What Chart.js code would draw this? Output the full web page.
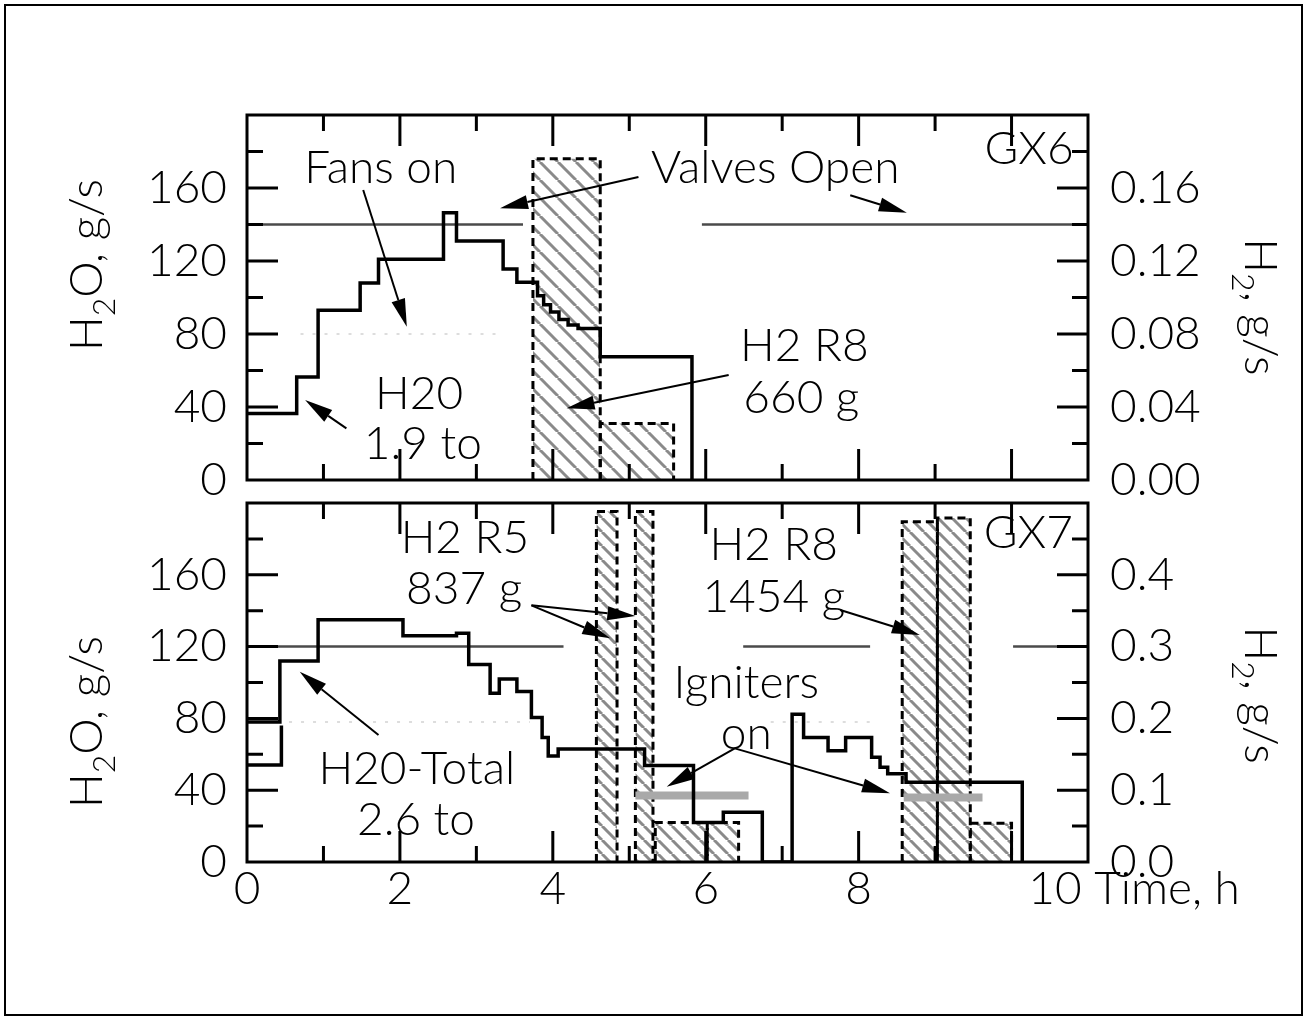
<!DOCTYPE html>
<html>
<head>
<meta charset="utf-8">
<title>GX6 / GX7 water and hydrogen injection</title>
<script src="https://cdn.jsdelivr.net/npm/chart.js@4.4.1/dist/chart.umd.min.js"></script>
<style>
  html, body { margin: 0; padding: 0; background: #fff; }
  #page { position: relative; width: 1308px; height: 1021px; overflow: hidden; background: #fff; }
  #page canvas { position: absolute; left: 0; top: 0; }
  #border { position: absolute; left: 4px; top: 4px; width: 1299px; height: 1012px;
            border: 2px solid #000; box-sizing: border-box; }
</style>
</head>
<body>
<div id="page">
  <div id="border"></div>
  <canvas id="gx6" width="1308" height="1021"></canvas>
  <canvas id="gx7" width="1308" height="1021"></canvas>
</div>
<script>
// ---------------- axis ticks ----------------
const timeTickLabels = [0, 2, 4, 6, 8];
const timeMajor = [2, 4, 6, 8, 10];
const timeMinor = [1, 3, 5, 7, 9];

const waterTickLabels = [0, 40, 80, 120, 160];
const waterMajor = [40, 80, 120, 160];
const waterMinor = [20, 60, 100, 140, 180];

const gx6H2TickLabels = [0, 0.04, 0.08, 0.12, 0.16];
const gx6H2Major = [0.04, 0.08, 0.12, 0.16];
const gx6H2Minor = [0.02, 0.06, 0.10, 0.14, 0.18];

const gx7H2TickLabels = [0, 0.1, 0.2, 0.3, 0.4];
const gx7H2Major = [0.1, 0.2, 0.3, 0.4];
const gx7H2Minor = [0.05, 0.15, 0.25, 0.35, 0.45];

// ---------------- GX6 ----------------
// water injection, step changes (time h, g/s)
const gx6Time  = [0, 0.65, 0.93, 1.48, 1.72, 2.57, 2.74, 3.35, 3.53, 3.80, 3.88, 3.97, 4.08, 4.20, 4.33, 4.62, 5.82];
const gx6Water = [36.5, 56.5, 93, 108, 121, 146.5, 131, 115.6, 108.3, 101, 96, 92, 88, 85, 83, 67.5, 0];
// hydrogen release R8 (h, h, g/s)
const gx6H2Start = [3.74, 4.62];
const gx6H2End   = [4.62, 5.58];
const gx6H2Rate  = [0.176, 0.031];
// valves open level line (g/s water scale)
const gx6ValveStart = [0, 5.95];
const gx6ValveEnd   = [3.61, 11];
const gx6ValveLevel = 140;
// faint dotted trace
const gx6FaintStart = [0.70];
const gx6FaintEnd   = [3.30];
const gx6FaintLevel = 80;

// ---------------- GX7 ----------------
const gx7Time  = [0, 0.43, 0.93, 2.04, 2.74, 2.90, 3.18, 3.30, 3.53, 3.72, 3.86, 3.94, 4.07, 5.20, 5.84, 6.23, 6.74, 7.13, 7.28, 7.60, 7.83, 8.17, 8.28, 8.38, 8.62, 10.14];
const gx7Water = [78, 112, 135, 126, 127.5, 110, 94, 102, 95, 80.5, 69.4, 59, 63, 53.7, 22, 27.7, 0, 82.3, 69.4, 62, 69.4, 58.3, 52.8, 49.2, 44.4, 0];
const gx7EarlyTime  = [0, 0.45];
const gx7EarlyWater = [54, 76];
// hydrogen release R5 and R8
const gx7H2Start = [4.57, 5.08, 5.34, 6.02, 8.57, 9.03, 9.46];
const gx7H2End   = [4.84, 5.31, 6.02, 6.43, 9.03, 9.46, 10.00];
const gx7H2Rate  = [0.488, 0.488, 0.055, 0.055, 0.474, 0.479, 0.054];
// valves open level line
const gx7ValveStart = [0, 6.49, 10.02];
const gx7ValveEnd   = [4.14, 8.15, 11];
const gx7ValveLevel = 120;
// igniters on
const gx7IgnStart = [5.08, 8.59];
const gx7IgnEnd   = [6.56, 9.62];
const gx7IgnLevel = [37, 36];
// faint dotted trace
const gx7FaintStart = [0.55, 6.85];
const gx7FaintEnd   = [3.70, 8.15];
const gx7FaintLevel = 78;

// ---------------- styling ----------------
const FONT_FAMILY = "Lato, 'Open Sans', 'DejaVu Sans', sans-serif";
const FONT_SIZE = 46;
const SUB_SIZE = 32;
const SUB_DROP = 13;
const CAP = 33;
const LONG_TICK = 31;
const SHORT_TICK = 16;
const tickFont = { family: FONT_FAMILY, size: FONT_SIZE, weight: '300' };

const pts  = (xs, ys) => xs.map((x, i) => ({ x, y: ys[i] }));
const flat = (x0, x1, v) => [{ x: x0, y: v }, { x: x1, y: v }];
const box  = (x0, x1, h) => [{ x: x0, y: 0 }, { x: x0, y: h }, { x: x1, y: h }, { x: x1, y: 0 }];

function hatch(period, width) {
  const c = document.createElement('canvas');
  c.width = c.height = period;
  const g = c.getContext('2d');
  g.strokeStyle = '#8a8a8a';
  g.lineWidth = width;
  for (const k of [-1, 0, 1]) {
    g.beginPath();
    g.moveTo(k * period, 0);
    g.lineTo(k * period + period, period);
    g.stroke();
  }
  return g.createPattern(c, 'repeat');
}

function barSets(starts, ends, rates, pattern) {
  return starts.map((s, i) => ({
    data: box(s, ends[i], rates[i]), yAxisID: 'y2', fill: 'origin',
    backgroundColor: pattern, borderColor: '#000', borderWidth: 3, borderDash: [8, 5],
    pointRadius: 0, tension: 0, order: 5
  }));
}
function levelSets(starts, ends, level, color, width, dash, order) {
  return starts.map((s, i) => ({
    data: flat(s, ends[i], Array.isArray(level) ? level[i] : level), yAxisID: 'y',
    borderColor: color, borderWidth: width, borderDash: dash, pointRadius: 0, fill: false, order
  }));
}
function stepSet(xs, ys) {
  return { data: pts(xs, ys), yAxisID: 'y', stepped: true, borderColor: '#000',
           borderWidth: 3.5, pointRadius: 0, fill: false, order: 1 };
}

function drawArrow(ctx, x0, y0, x1, y1) {
  const ang = Math.atan2(y1 - y0, x1 - x0);
  const L = 28, W = 7;
  const bx = x1 - L * Math.cos(ang), by = y1 - L * Math.sin(ang);
  ctx.lineWidth = 2;
  ctx.beginPath(); ctx.moveTo(x0, y0); ctx.lineTo(bx, by); ctx.stroke();
  ctx.beginPath();
  ctx.moveTo(x1, y1);
  ctx.lineTo(bx + W * Math.sin(ang), by - W * Math.cos(ang));
  ctx.lineTo(bx - W * Math.sin(ang), by + W * Math.cos(ang));
  ctx.closePath(); ctx.fill();
}

function drawTitle(ctx, cx, cy, angle, parts) {
  const main = `300 ${FONT_SIZE}px ${FONT_FAMILY}`;
  const sub = `300 ${SUB_SIZE}px ${FONT_FAMILY}`;
  ctx.save();
  ctx.translate(cx, cy);
  ctx.rotate(angle);
  ctx.textAlign = 'left';
  ctx.textBaseline = 'alphabetic';
  let w = 0;
  parts.forEach(p => { ctx.font = p.sub ? sub : main; w += ctx.measureText(p.s).width; });
  let px = -w / 2;
  parts.forEach(p => {
    ctx.font = p.sub ? sub : main;
    ctx.fillText(p.s, px, p.sub ? SUB_DROP : 0);
    px += ctx.measureText(p.s).width;
  });
  ctx.restore();
}

// frame, inward ticks, notes, arrows and axis titles of one panel
const panelDecor = {
  id: 'panelDecor',
  afterDraw(chart, args, o) {
    const { ctx, chartArea: a } = chart;
    const { x, y, y2 } = chart.scales;
    ctx.save();
    ctx.strokeStyle = '#000';
    ctx.fillStyle = '#000';
    ctx.lineWidth = 3;
    ctx.beginPath();
    const vTick = (t, len) => {
      const px = x.getPixelForValue(t);
      ctx.moveTo(px, a.top); ctx.lineTo(px, a.top + len);
      ctx.moveTo(px, a.bottom); ctx.lineTo(px, a.bottom - len);
    };
    timeMajor.forEach(t => vTick(t, LONG_TICK));
    timeMinor.forEach(t => vTick(t, SHORT_TICK));
    const lTick = (v, len) => { const py = y.getPixelForValue(v); ctx.moveTo(a.left, py); ctx.lineTo(a.left + len, py); };
    const rTick = (v, len) => { const py = y2.getPixelForValue(v); ctx.moveTo(a.right, py); ctx.lineTo(a.right - len, py); };
    waterMajor.forEach(v => lTick(v, LONG_TICK));
    waterMinor.forEach(v => lTick(v, SHORT_TICK));
    o.h2Major.forEach(v => rTick(v, LONG_TICK));
    o.h2Minor.forEach(v => rTick(v, SHORT_TICK));
    ctx.stroke();
    ctx.strokeRect(a.left, a.top, a.right - a.left, a.bottom - a.top);

    ctx.font = `300 ${FONT_SIZE}px ${FONT_FAMILY}`;
    ctx.textAlign = 'center';
    ctx.textBaseline = 'alphabetic';
    o.notes.forEach(n => ctx.fillText(n.text, x.getPixelForValue(n.t), y.getPixelForValue(n.v) + CAP / 2));

    o.arrows.forEach(ar => drawArrow(ctx,
      x.getPixelForValue(ar.from[0]), y.getPixelForValue(ar.from[1]),
      x.getPixelForValue(ar.to[0]), y.getPixelForValue(ar.to[1])));

    drawTitle(ctx, a.left - 145, y.getPixelForValue(o.leftTitleAt), -Math.PI / 2,
      [{ s: 'H' }, { s: '2', sub: true }, { s: 'O, g/s' }]);
    drawTitle(ctx, a.right + 157, y.getPixelForValue(o.rightTitleAt), Math.PI / 2,
      [{ s: 'H' }, { s: '2', sub: true }, { s: ', g/s' }]);

    if (o.timeLabel) {
      ctx.font = `300 ${FONT_SIZE}px ${FONT_FAMILY}`;
      ctx.textAlign = 'left';
      ctx.textBaseline = 'middle';
      ctx.fillText(o.timeLabel.text, x.getPixelForValue(o.timeLabel.t), a.bottom + FONT_SIZE * 0.6);
    }
    ctx.restore();
  }
};

function panelOptions(cfg) {
  return {
    responsive: false,
    animation: false,
    events: [],
    layout: { padding: { top: cfg.padTop, bottom: cfg.padBottom, left: 0, right: 0 } },
    plugins: { legend: { display: false }, tooltip: { enabled: false }, panelDecor: cfg.decor },
    scales: {
      x: {
        type: 'linear', min: 0, max: 11,
        grid: { display: false, drawTicks: false }, border: { display: false },
        ticks: { display: cfg.showTime, autoSkip: false, maxRotation: 0, padding: 0, color: '#000', font: tickFont },
        afterBuildTicks: s => { s.ticks = timeTickLabels.map(v => ({ value: v })); },
        afterFit: s => { s.height = cfg.xHeight; }
      },
      y: {
        type: 'linear', position: 'left', min: 0, max: 200,
        grid: { display: false, drawTicks: false }, border: { display: false },
        ticks: { padding: 20, color: '#000', font: tickFont, autoSkip: false },
        afterBuildTicks: s => { s.ticks = waterTickLabels.map(v => ({ value: v })); },
        afterFit: s => { s.width = 247; }
      },
      y2: {
        type: 'linear', position: 'right', min: 0, max: cfg.h2Max,
        grid: { display: false, drawTicks: false }, border: { display: false },
        ticks: { padding: 22, color: '#000', font: tickFont, autoSkip: false,
                 callback: v => Number(v).toFixed(cfg.h2Digits) },
        afterBuildTicks: s => { s.ticks = cfg.h2Ticks.map(v => ({ value: v })); },
        afterFit: s => { s.width = 220; }
      }
    }
  };
}

function build() {
  const pat6 = hatch(18, 3);
  const pat7 = hatch(14, 3);

  new Chart(document.getElementById('gx6'), {
    type: 'line',
    data: {
      datasets: [
        stepSet(gx6Time, gx6Water),
        ...barSets(gx6H2Start, gx6H2End, gx6H2Rate, pat6),
        ...levelSets(gx6ValveStart, gx6ValveEnd, gx6ValveLevel, '#4a4a4a', 2.5, [], 4),
        ...levelSets(gx6FaintStart, gx6FaintEnd, gx6FaintLevel, '#d2d2d2', 1.5, [3, 9], 6)
      ]
    },
    options: panelOptions({
      padTop: 115, padBottom: 541, xHeight: 0, showTime: false,
      h2Max: 0.2, h2Digits: 2, h2Ticks: gx6H2TickLabels,
      decor: {
        h2Major: gx6H2Major, h2Minor: gx6H2Minor,
        leftTitleAt: 117.8, rightTitleAt: 94.8,
        notes: [
          { text: 'Fans on', t: 1.75, v: 172 },
          { text: 'Valves Open', t: 6.91, v: 172 },
          { text: 'GX6', t: 10.23, v: 182 },
          { text: 'H20', t: 2.25, v: 48.2 },
          { text: '1.9 to', t: 2.30, v: 20.8 },
          { text: 'H2 R8', t: 7.29, v: 74.5 },
          { text: '660 g', t: 7.25, v: 45.5 }
        ],
        arrows: [
          { from: [1.52, 158.9], to: [2.09, 84] },
          { from: [5.12, 166], to: [3.31, 148.9] },
          { from: [7.89, 156], to: [8.63, 146.5] },
          { from: [1.30, 28.3], to: [0.76, 43.8] },
          { from: [6.30, 57.5], to: [4.18, 39.3] }
        ]
      }
    })
  , plugins: [panelDecor] });

  new Chart(document.getElementById('gx7'), {
    type: 'line',
    data: {
      datasets: [
        stepSet(gx7Time, gx7Water),
        stepSet(gx7EarlyTime, gx7EarlyWater),
        ...levelSets(gx7IgnStart, gx7IgnEnd, gx7IgnLevel, '#a9a9a9', 8, [], 2),
        ...barSets(gx7H2Start, gx7H2End, gx7H2Rate, pat7),
        ...levelSets(gx7ValveStart, gx7ValveEnd, gx7ValveLevel, '#4a4a4a', 2.5, [], 4),
        ...levelSets(gx7FaintStart, gx7FaintEnd, gx7FaintLevel, '#d2d2d2', 1.5, [3, 9], 6)
      ]
    },
    options: panelOptions({
      padTop: 503, padBottom: 0, xHeight: 159, showTime: true,
      h2Max: 0.5, h2Digits: 1, h2Ticks: gx7H2TickLabels,
      decor: {
        h2Major: gx7H2Major, h2Minor: gx7H2Minor,
        leftTitleAt: 78, rightTitleAt: 93,
        timeLabel: { text: '10 Time, h', t: 10.22 },
        notes: [
          { text: 'H2 R5', t: 2.85, v: 181.6 },
          { text: '837 g', t: 2.84, v: 153.2 },
          { text: 'H2 R8', t: 6.89, v: 177.2 },
          { text: '1454 g', t: 6.89, v: 148.7 },
          { text: 'GX7', t: 10.22, v: 184.4 },
          { text: 'Igniters', t: 6.53, v: 100.8 },
          { text: 'on', t: 6.53, v: 71.9 },
          { text: 'H20-Total', t: 2.22, v: 52.4 },
          { text: '2.6 to', t: 2.21, v: 24.5 }
        ],
        arrows: [
          { from: [3.72, 143], to: [4.75, 124.6] },
          { from: [3.72, 143], to: [5.08, 137] },
          { from: [7.76, 140.4], to: [8.80, 126.5] },
          { from: [6.38, 63.3], to: [5.49, 41.9] },
          { from: [6.38, 63.3], to: [8.41, 38.3] },
          { from: [1.72, 70.8], to: [0.69, 106] }
        ]
      }
    })
  , plugins: [panelDecor] });
}

if (document.fonts && document.fonts.load) {
  document.fonts.load(`300 ${FONT_SIZE}px Lato`).then(build, build);
} else {
  build();
}
</script>
</body>
</html>
